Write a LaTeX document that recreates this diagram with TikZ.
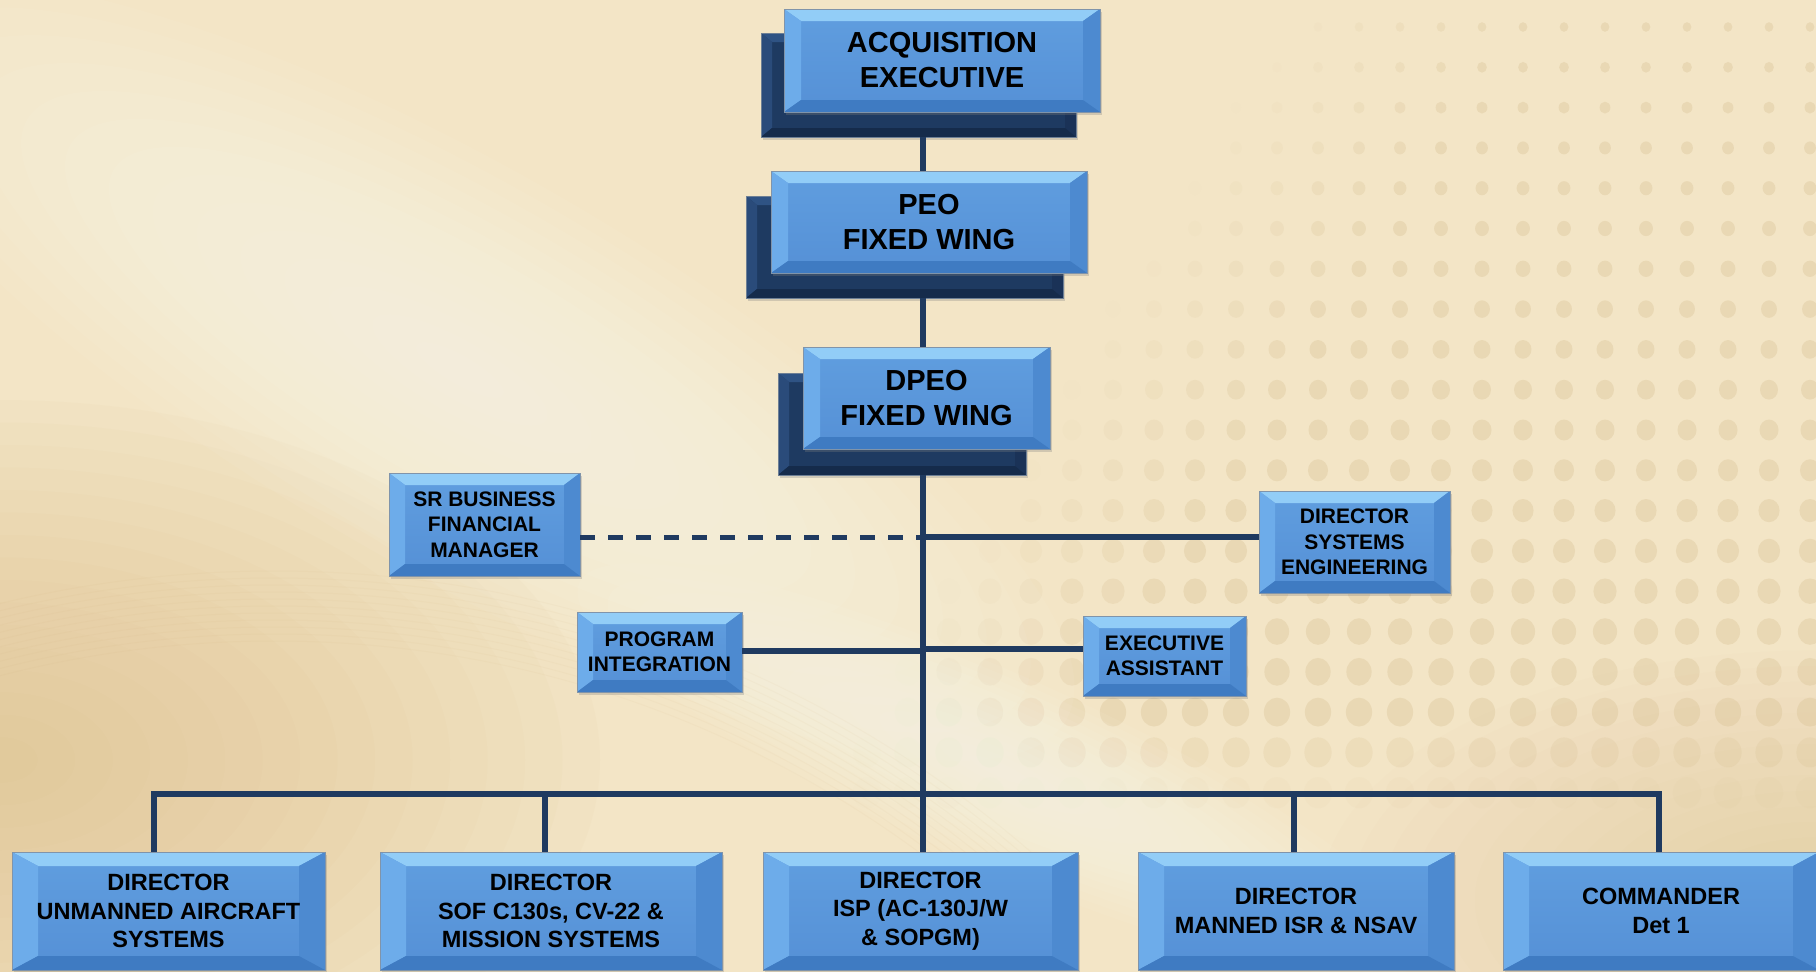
\documentclass[tikz,border=0pt]{standalone}
\usepackage{fontspec}
\setmainfont{Liberation Sans}
\usetikzlibrary{shadows,calc}

\definecolor{bgbase}{HTML}{F3E5C6}
\definecolor{tanc}{HTML}{DDBE88}
\definecolor{dotcol}{HTML}{D4BC8C}
\definecolor{arcc}{HTML}{C9A46A}
\definecolor{glowc}{HTML}{FFFCF4}
\definecolor{lnc}{HTML}{1F3A60}
\definecolor{faceT}{HTML}{609EDF}
\definecolor{faceB}{HTML}{5590D6}
\definecolor{bvT}{HTML}{92CDF7}
\definecolor{bvL}{HTML}{6DACEA}
\definecolor{bvR}{HTML}{4D8AD0}
\definecolor{bvB}{HTML}{3F7BC2}
\definecolor{bordc}{HTML}{8094AA}
\definecolor{bkface}{HTML}{1E3A61}
\definecolor{bkT}{HTML}{2F5384}
\definecolor{bkL}{HTML}{2A4B7A}
\definecolor{bkR}{HTML}{1A3257}
\definecolor{bkB}{HTML}{152B4B}
\definecolor{bkbord}{HTML}{6D7F95}

\tikzset{
  bevelshape/.style n args={6}{
    path picture={
      \fill[#3] (path picture bounding box.north west) -- (path picture bounding box.north east) -- ([xshift=-#1,yshift=-#2]path picture bounding box.north east) -- ([xshift=#1,yshift=-#2]path picture bounding box.north west) -- cycle;
      \fill[#4] (path picture bounding box.north west) -- ([xshift=#1,yshift=-#2]path picture bounding box.north west) -- ([xshift=#1,yshift=#2]path picture bounding box.south west) -- (path picture bounding box.south west) -- cycle;
      \fill[#5] (path picture bounding box.north east) -- ([xshift=-#1,yshift=-#2]path picture bounding box.north east) -- ([xshift=-#1,yshift=#2]path picture bounding box.south east) -- (path picture bounding box.south east) -- cycle;
      \fill[#6] (path picture bounding box.south west) -- ([xshift=#1,yshift=#2]path picture bounding box.south west) -- ([xshift=-#1,yshift=#2]path picture bounding box.south east) -- (path picture bounding box.south east) -- cycle;
    }},
  frontbox/.style 2 args={rectangle, inner sep=0pt, align=center, text=black,
    draw=bordc, line width=0.8pt, top color=faceT, bottom color=faceB,
    drop shadow={shadow xshift=2pt, shadow yshift=-3pt, opacity=0.3},
    bevelshape={#1}{#2}{bvT}{bvL}{bvR}{bvB}},
  backbox/.style={rectangle, inner sep=0pt, draw=bkbord, line width=0.8pt, fill=bkface,
    drop shadow={shadow xshift=2pt, shadow yshift=-3pt, opacity=0.3},
    bevelshape={11pt}{9pt}{bkT}{bkL}{bkR}{bkB}},
  topfont/.style={font=\fontsize{29}{35}\selectfont\bfseries},
  midfont/.style={font=\fontsize{21}{25.5}\selectfont\bfseries},
  botfont/.style={font=\fontsize{23.5}{28.5}\selectfont\bfseries},
  conn/.style={draw=lnc, line width=5.5pt},
  dashln/.style={draw=lnc, line width=5pt, dash pattern=on 15pt off 13pt},
}

\begin{document}
\begin{tikzpicture}[x=1pt,y=-1pt]
\useasboundingbox (0,0) rectangle (1816,972);
\clip (0,0) rectangle (1816,972);

% ---------- background ----------
\fill[bgbase] (0,0) rectangle (1816,972);
\foreach \k in {1,...,16} {
  \fill[tanc, opacity=0.055] (0,760) ellipse ({37.5*\k} and {22.5*\k});
  \fill[tanc, opacity=0.03] (1816,900) ellipse ({31*\k} and {15.6*\k});
}
% dot grid
\foreach \j in {0,...,19} {
  \foreach \i in {0,...,29} {
    \pgfmathsetmacro\dx{1810-41*\i}
    \pgfmathsetmacro\dy{27+40.3*\j}
    \pgfmathsetmacro\op{max(0,min(1,(\dx-(1330-0.6*\dy))/230+0.15))*min(1,max(0,(810-\dy)/90))*0.30}
    \pgfmathsetmacro\rr{4+10*\dy/780}
    \pgfmathsetmacro\ry{1.1*\rr}
    \fill[dotcol, opacity=\op] (\dx,\dy) ellipse (\rr pt and \ry pt);
  }
}
% light swooshes
\foreach \k in {1,...,14} {
  \fill[glowc, opacity=0.06, rotate around={-30:(460,370)}] (460,370) ellipse ({50*\k} and {14.3*\k});
  \fill[glowc, opacity=0.06, rotate around={-24:(1000,770)}] (1000,770) ellipse ({32.9*\k} and {6.8*\k});
}
% faint arcs bottom-left
\begin{scope}
  \clip (0,540) rectangle (1050,972);
  \foreach \r in {1090,1097,...,1160} {
    \draw[arcc, opacity=0.05, line width=1pt] (274,1731) circle (\r pt);
  }
\end{scope}

% ---------- back (shadow) boxes ----------
\node[backbox, minimum width=315pt, minimum height=104pt] (acqb) at (918.5,85) {};
\node[backbox, minimum width=317pt, minimum height=102pt] (peob) at (904.5,247) {};
\node[backbox, minimum width=248pt, minimum height=102pt] (dpeob) at (902,424) {};

% ---------- connector anchors ----------
\coordinate (sp) at (923,0);
\coordinate (busL) at (154,794);
\coordinate (busR) at (1659,794);
\coordinate (b2) at (545,794);
\coordinate (b4) at (1294,794);
\coordinate (h1) at (923,537);
\coordinate (h2) at (923,651);
\coordinate (h3) at (923,649);

% ---------- front boxes ----------
\node[frontbox={17pt}{12pt}, topfont, minimum width=316pt, minimum height=103pt] (acq) at (942,60.5) {ACQUISITION\\EXECUTIVE};
\node[frontbox={17pt}{12pt}, topfont, minimum width=316pt, minimum height=102pt] (peo) at (929,222) {PEO\\FIXED WING};
\node[frontbox={17pt}{12pt}, topfont, minimum width=247pt, minimum height=102pt] (dpeo) at (926.5,398) {DPEO\\FIXED WING};

\node[frontbox={16pt}{12pt}, midfont, minimum width=191pt, minimum height=103pt] (sbfm) at (484.5,524.5) {SR BUSINESS\\FINANCIAL\\MANAGER};
\node[frontbox={16pt}{12pt}, midfont, minimum width=191pt, minimum height=102pt] (dse) at (1354.5,542) {DIRECTOR\\SYSTEMS\\ENGINEERING};
\node[frontbox={16pt}{12pt}, midfont, minimum width=165pt, minimum height=80pt] (pint) at (659.5,652) {PROGRAM\\INTEGRATION};
\node[frontbox={16pt}{12pt}, midfont, minimum width=163pt, minimum height=80pt] (exa) at (1164.5,656) {EXECUTIVE\\ASSISTANT};

\node[frontbox={26pt}{14pt}, botfont, minimum width=313pt, minimum height=118pt] (d1) at (168.5,911) {DIRECTOR\\UNMANNED AIRCRAFT\\SYSTEMS};
\node[frontbox={26pt}{14pt}, botfont, minimum width=342pt, minimum height=118pt] (d2) at (551,911) {DIRECTOR\\SOF C130s, CV-22 \&\\MISSION SYSTEMS};
\node[frontbox={26pt}{14pt}, botfont, minimum width=315pt, minimum height=118pt] (d3) at (920.5,911) {DIRECTOR\\ISP (AC-130J/W\\\& SOPGM)};
\node[frontbox={26pt}{14pt}, botfont, minimum width=316pt, minimum height=118pt] (d4) at (1296,911) {DIRECTOR\\MANNED ISR \& NSAV};
\node[frontbox={26pt}{14pt}, botfont, minimum width=316pt, minimum height=118pt] (d5) at (1661,911) {COMMANDER\\Det 1};

% ---------- connector lines ----------
\draw[conn] (acqb.south -| sp) -- (peo.north -| sp);
\draw[conn] (peob.south -| sp) -- (dpeo.north -| sp);
\draw[conn] (dpeob.south -| sp) -- (d3.north -| sp);
\draw[conn, line join=miter] (d1.north -| busL) -- (busL) -- (busR) -- (d5.north -| busR);
\draw[conn] (b2) -- (d2.north -| b2);
\draw[conn] (b4) -- (d4.north -| b4);
\draw[dashln] (sbfm.east |- h1) -- (h1);
\draw[conn] (h1) -- (dse.west |- h1);
\draw[conn] (pint.east |- h2) -- (h2);
\draw[conn] (h3) -- (exa.west |- h3);
\end{tikzpicture}
\end{document}
